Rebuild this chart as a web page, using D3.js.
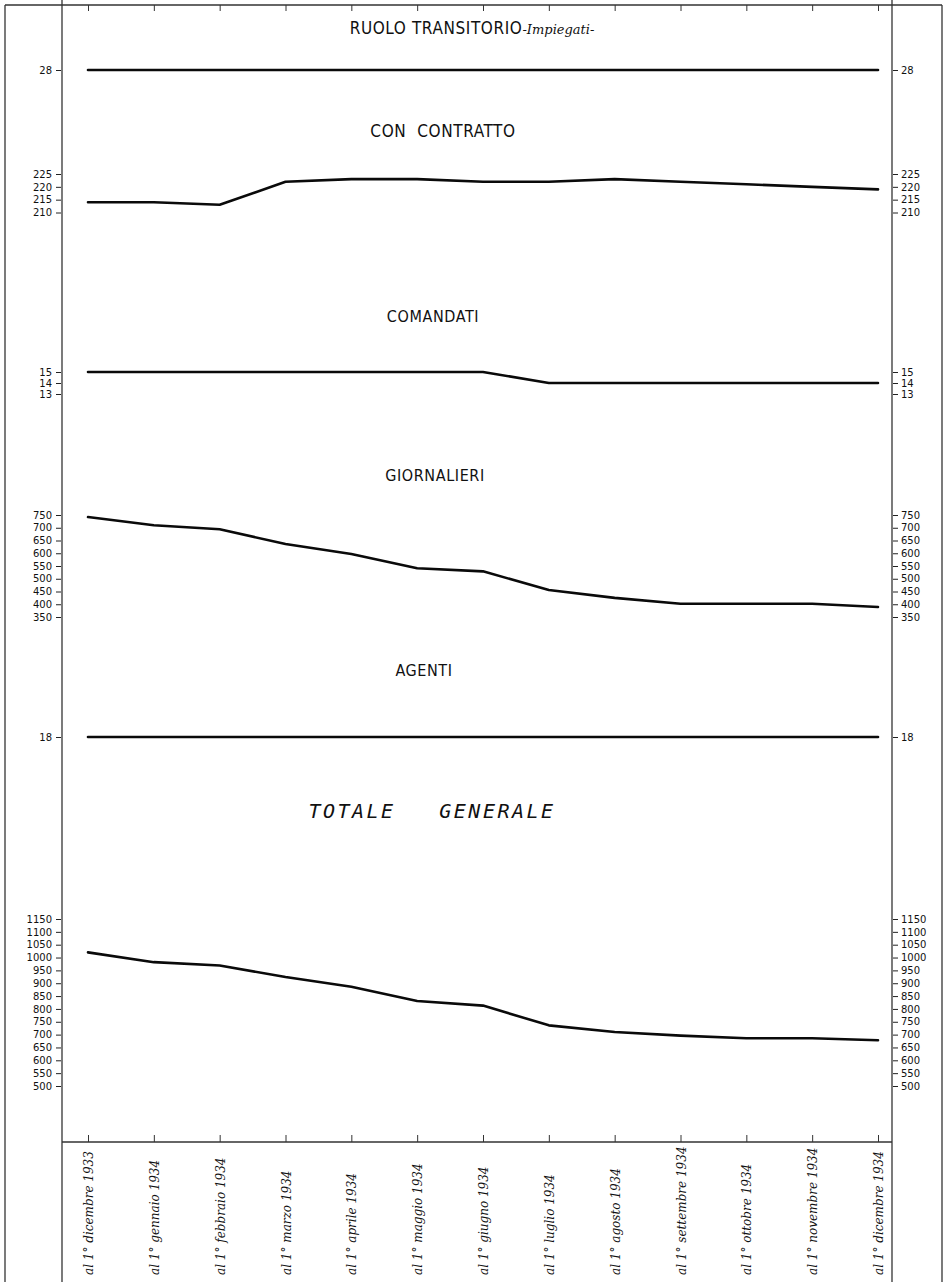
<!DOCTYPE html>
<html><head><meta charset="utf-8">
<script src="https://cdn.jsdelivr.net/npm/d3@7"></script>
<style>
body{margin:0;background:#fff;}
svg{display:block;}
.tick text{font-family:"DejaVu Sans",sans-serif;font-size:10px;fill:#111;}
</style></head>
<body><svg id="c" width="946" height="1282"></svg>
<script>
const months = ["al 1° dicembre 1933","al 1° gennaio 1934","al 1° febbraio 1934","al 1° marzo 1934","al 1° aprile 1934","al 1° maggio 1934","al 1° giugno 1934","al 1° luglio 1934","al 1° agosto 1934","al 1° settembre 1934","al 1° ottobre 1934","al 1° novembre 1934","al 1° dicembre 1934"];
const ruolo      = [28,28,28,28,28,28,28,28,28,28,28,28,28];
const contratto  = [214,214,213,222,223,223,222,222,223,222,221,220,219];
const comandati  = [15,15,15,15,15,15,15,14,14,14,14,14,14];
const giornalieri= [742,710,694,636,597,541,529,456,425,402,402,402,389];
const agenti     = [18,18,18,18,18,18,18,18,18,18,18,18,18];
const totale     = [1020,982,969,924,886,831,813,736,710,696,686,686,678];
const ticksRuolo = [28];
const ticksContratto = [225,220,215,210];
const ticksComandati = [15,14,13];
const ticksGiornalieri = [750,700,650,600,550,500,450,400,350];
const ticksAgenti = [18];
const ticksTotale = [1150,1100,1050,1000,950,900,850,800,750,700,650,600,550,500];

const svg = d3.select("#c");
const L = 62, R = 892;
const x = d3.scalePoint().domain(months).range([88, 878]);
const fmt = d3.format("d");

// frame
const frame = svg.append("g").attr("stroke","#333").attr("fill","none");
frame.append("line").attr("x1",5).attr("x2",5).attr("y1",5).attr("y2",1282).attr("stroke-width",1.3);
frame.append("line").attr("x1",942).attr("x2",942).attr("y1",5).attr("y2",1282).attr("stroke-width",1.3);
frame.append("line").attr("x1",L).attr("x2",L).attr("y1",0).attr("y2",1282).attr("stroke-width",1.3);
frame.append("line").attr("x1",R).attr("x2",R).attr("y1",0).attr("y2",1282).attr("stroke-width",1.3);
frame.append("line").attr("x1",5).attr("x2",942).attr("y1",5).attr("y2",5).attr("stroke-width",1.3);

// top month ticks
svg.append("g").attr("transform","translate(0,5)")
  .call(d3.axisBottom(x).tickSize(6).tickFormat(""))
  .call(g=>g.select(".domain").remove())
  .selectAll("line").attr("stroke","#333");

// bottom axis
const bottom = svg.append("g").attr("transform","translate(0,1142)")
  .call(d3.axisTop(x).tickSize(7).tickFormat(""));
bottom.select(".domain").remove();
bottom.selectAll("line").attr("stroke","#333");
svg.append("line").attr("x1",L).attr("x2",R).attr("y1",1142).attr("y2",1142).attr("stroke","#333").attr("stroke-width",1.3);

// x labels
svg.append("g").selectAll("text").data(months).join("text")
  .attr("transform",d=>`translate(${x(d)+5},1275) rotate(-90)`)
  .attr("text-anchor","start")
  .attr("font-family","'DejaVu Serif',serif").attr("font-style","italic")
  .attr("font-size",12).attr("fill","#111")
  .text(d=>d);

const panels = [
  {title:"RUOLO TRANSITORIO", sub:"-Impiegati-", tx:472, ty:34, fs:17, data:ruolo, ticks:ticksRuolo, dom:[27,29], rng:[80,60]},
  {title:"CON  CONTRATTO", tx:443, ty:137, fs:17, data:contratto, ticks:ticksContratto, dom:[210,225], rng:[212.5,174]},
  {title:"COMANDATI", tx:433, ty:322, fs:16, data:comandati, ticks:ticksComandati, dom:[13,15], rng:[394,372]},
  {title:"GIORNALIERI", tx:435, ty:481, fs:16, data:giornalieri, ticks:ticksGiornalieri, dom:[350,750], rng:[617,515]},
  {title:"AGENTI", tx:424, ty:676, fs:16, data:agenti, ticks:ticksAgenti, dom:[17,19], rng:[747,727]},
  {title:"TOTALE   GENERALE", tx:432, ty:818, big:true, data:totale, ticks:ticksTotale, dom:[500,1150], rng:[1086,919]}
];

panels.forEach(p=>{
  const y = d3.scaleLinear().domain(p.dom).range(p.rng);
  const gl = svg.append("g").attr("transform",`translate(${L-1},0)`)
    .call(d3.axisLeft(y).tickValues(p.ticks).tickFormat(fmt).tickSize(5).tickPadding(4));
  gl.select(".domain").remove();
  gl.selectAll("line").attr("stroke","#222");
  const gr = svg.append("g").attr("transform",`translate(${R+1},0)`)
    .call(d3.axisRight(y).tickValues(p.ticks).tickFormat(fmt).tickSize(5).tickPadding(3));
  gr.select(".domain").remove();
  gr.selectAll("line").attr("stroke","#222");

  const line = d3.line().x((d,i)=>x(months[i])).y(d=>y(d));
  svg.append("path").datum(p.data).attr("d",line)
    .attr("fill","none").attr("stroke","#0a0a0a").attr("stroke-width",2.6)
    .attr("stroke-linejoin","round").attr("stroke-linecap","round");

  const t = svg.append("text").attr("x",p.tx).attr("y",p.ty).attr("text-anchor","middle")
    .attr("fill","#111").attr("xml:space","preserve");
  if(p.big){
    t.attr("font-family","'DejaVu Sans Mono',monospace").attr("font-style","italic")
     .attr("font-size",20).attr("letter-spacing",2.5).text(p.title);
  } else {
    t.attr("font-family","'DejaVu Sans Condensed','DejaVu Sans',sans-serif")
     .attr("font-size",p.fs).attr("letter-spacing",0.6).text(p.title);
    if(p.sub){
      t.append("tspan").attr("font-family","'DejaVu Serif',serif").attr("font-style","italic")
       .attr("font-size",13).attr("letter-spacing",0).text(p.sub);
    }
  }
});
</script></body></html>
